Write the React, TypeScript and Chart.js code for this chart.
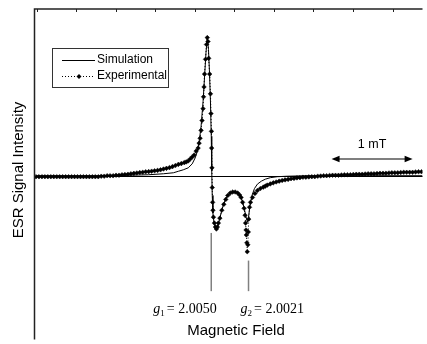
import React, { useEffect, useRef } from "react";
import { Chart, registerables } from "chart.js";

Chart.register(...registerables);

// Field axis in arbitrary field units (1 mT = 82 units), signal in arbitrary units
const expField = [1, 4, 7, 10, 13, 16, 19, 22, 25, 28, 31, 34, 37, 40, 43, 46, 49, 52, 55, 58, 61, 64, 67, 70, 73, 76, 79, 82, 85, 88, 91, 94, 97, 100, 103, 106, 109, 112, 115, 118, 121, 124, 127, 130, 133, 136, 139, 142, 145, 148, 151, 153, 155, 157, 159, 161, 163, 165, 166, 167, 168, 169, 170, 170.5, 171, 171.5, 172.5, 173.5, 174.3, 175, 175.7, 176.7, 177.5, 178, 178.5, 178.7, 179, 179.3, 179.7, 180, 180.5, 181.5, 182.5, 183.5, 184.5, 185.5, 187, 189, 191, 193, 195, 197.5, 200, 202.5, 205, 207, 208.5, 210, 211.5, 212.5, 213, 213.5, 213.8, 214.3, 214.7, 215.3, 215.8, 216.2, 217, 218, 220, 222.5, 225, 228, 231, 233, 235, 238, 241, 244, 247, 250, 253, 256, 259, 262, 265, 268, 271, 274, 277, 280, 283, 286, 289, 292, 295, 298, 301, 304, 307, 310, 313, 316, 319, 322, 325, 328, 331, 334, 337, 340, 343, 346, 349, 352, 355, 358, 361, 364, 367, 370, 373, 376, 379, 382, 385, 388, 391];
const expSignal = [-1, -1, -1, -1, -1, -1, -1, -1, -1, -1, -1, -1, -1, -1, -1, -1, -1, -1, -1, -1, -1, -1, -0.5, -0.5, 0, 0, 0, 0.5, 0.5, 1, 1.2, 1.5, 2, 2.4, 2.8, 3.2, 3.5, 4, 4.2, 4.6, 5, 5.4, 6, 6.8, 7.5, 8.2, 9.2, 10.3, 11.5, 12.3, 13.3, 14, 15, 17, 19, 21, 25, 28, 33, 38, 46, 56, 68, 80, 90, 103, 118, 133, 140, 136, 119, 103, 83, 63, 45, 28, 8, -12, -27, -35, -42, -48, -52, -54, -52, -48, -43, -35, -29, -24, -20, -17.5, -16.5, -16.5, -17.5, -19.5, -22, -27, -33, -40, -48, -55, -60, -68, -77, -70, -57, -44, -32, -27, -22, -18, -15, -13, -11.5, -10.5, -9.5, -8.3, -7.2, -6.3, -5.5, -4.8, -4.2, -3.7, -3, -2.7, -2.2, -2, -1.5, -1.5, -1.2, -1, -1, -0.5, -0.3, 0, 0, 0.3, 0.5, 0.5, 0.5, 0.8, 1, 1, 1, 1.3, 1.5, 1.5, 1.5, 1.8, 2, 2, 2, 2.3, 2.5, 2.5, 2.5, 2.8, 3, 3, 3, 3.3, 3.5, 3.5, 3.5, 3.5, 3.8, 4, 4];

const simField = [1, 65, 95, 115, 130, 140, 145, 150, 155, 159, 162, 164, 166, 168, 170, 171.5, 173, 174.3, 175.5, 176.5, 177.5, 178.3, 178.8, 179.3, 180, 181, 182.3, 183.5, 185, 187, 190, 193, 197, 201, 205, 208, 210.5, 212.5, 214, 215, 216, 217.5, 219.5, 222, 225, 229, 233, 238, 245, 255, 275, 392];
const simSignal = [0, 0, 0.5, 1, 2, 3, 4.5, 6, 8, 12, 18, 24, 34, 50, 75, 100, 125, 140, 128, 105, 75, 40, 5, -20, -38, -47, -52, -54, -51, -43, -31, -23, -18, -16, -17.5, -21, -28, -37, -44, -47, -42, -30, -20, -13, -8.5, -5.5, -3.5, -2, -1, -0.5, 0, 0];

const seriesNames = ["Simulation", "Experimental"];
const gFields = [178.3, 216];
const gSubs = ["1", "2"];
const gValues = ["2.0050", "2.0021"];
const gLineTops = [-58, -86];
const gLineBottom = -117;
const scaleBarStart = 300;
const scaleBarEnd = 382;
const scaleBarLevel = 17;
const scaleBarLabel = "1 mT";
const xTitle = "Magnetic Field";
const yTitle = "ESR Signal Intensity";
const topTickFields = [1.7, 41.7, 81.7, 121.7, 161.7, 201.7, 241.7, 281.7, 321.7, 361.7];

const SANS = '"Liberation Sans", Arial, sans-serif';
const SERIF = '"Liberation Serif", "Times New Roman", serif';

function drawDiamond(ctx: CanvasRenderingContext2D, x: number, y: number, r: number) {
  ctx.beginPath();
  ctx.moveTo(x, y - r);
  ctx.lineTo(x + r, y);
  ctx.lineTo(x, y + r);
  ctx.lineTo(x - r, y);
  ctx.closePath();
  ctx.fill();
}

const decorPlugin = {
  id: "decor",
  beforeDatasetsDraw(chart: any) {
    const { ctx, chartArea, scales } = chart;
    const y0 = scales.y.getPixelForValue(0);
    ctx.save();
    ctx.strokeStyle = "#000";
    ctx.lineWidth = 1;
    ctx.beginPath();
    ctx.moveTo(chartArea.left, Math.round(y0) + 0.5);
    ctx.lineTo(chartArea.right, Math.round(y0) + 0.5);
    ctx.stroke();
    ctx.restore();
  },
  afterDraw(chart: any) {
    const { ctx, chartArea, scales } = chart;
    const xs = scales.x;
    const ys = scales.y;
    ctx.save();
    // frame (left and top)
    ctx.strokeStyle = "#222";
    ctx.lineWidth = 1.5;
    ctx.beginPath();
    ctx.moveTo(chartArea.left - 0.5, chartArea.bottom);
    ctx.lineTo(chartArea.left - 0.5, chartArea.top);
    ctx.lineTo(chartArea.right, chartArea.top);
    ctx.stroke();
    ctx.lineWidth = 1;
    topTickFields.forEach((f) => {
      const px = Math.round(xs.getPixelForValue(f)) + 0.5;
      ctx.beginPath();
      ctx.moveTo(px, chartArea.top);
      ctx.lineTo(px, chartArea.top + 3);
      ctx.stroke();
    });

    // legend
    ctx.strokeStyle = "#333";
    ctx.lineWidth = 1;
    ctx.strokeRect(52.5, 48.5, 116, 39);
    ctx.strokeStyle = "#000";
    ctx.beginPath();
    ctx.moveTo(62, 60.5);
    ctx.lineTo(95, 60.5);
    ctx.stroke();
    ctx.setLineDash([1, 2]);
    ctx.beginPath();
    ctx.moveTo(62, 76.5);
    ctx.lineTo(95, 76.5);
    ctx.stroke();
    ctx.setLineDash([]);
    ctx.fillStyle = "#000";
    drawDiamond(ctx, 79, 76.5, 2.5);
    ctx.font = `12px ${SANS}`;
    ctx.textBaseline = "middle";
    ctx.textAlign = "left";
    ctx.fillText(seriesNames[0], 97, 60);
    ctx.fillText(seriesNames[1], 97, 76);

    // g lines and labels
    ctx.strokeStyle = "#808080";
    ctx.lineWidth = 1.5;
    const offsets = [-58, -8];
    gFields.forEach((f, i) => {
      const px = xs.getPixelForValue(f);
      ctx.beginPath();
      ctx.moveTo(px, ys.getPixelForValue(gLineTops[i]));
      ctx.lineTo(px, ys.getPixelForValue(gLineBottom));
      ctx.stroke();
      let tx = px + offsets[i];
      const by = 313;
      ctx.textBaseline = "alphabetic";
      ctx.font = `italic 14px ${SERIF}`;
      ctx.fillText("g", tx, by);
      tx += ctx.measureText("g").width;
      ctx.font = `9px ${SERIF}`;
      ctx.fillText(gSubs[i], tx, by + 3);
      tx += ctx.measureText(gSubs[i]).width + 2;
      ctx.font = `14px ${SERIF}`;
      ctx.fillText("= " + gValues[i], tx, by);
    });

    // 1 mT scale bar
    const ax1 = xs.getPixelForValue(scaleBarStart);
    const ax2 = xs.getPixelForValue(scaleBarEnd);
    const ay = ys.getPixelForValue(scaleBarLevel);
    ctx.strokeStyle = "#555";
    ctx.lineWidth = 1.5;
    ctx.beginPath();
    ctx.moveTo(ax1 + 4, ay);
    ctx.lineTo(ax2 - 4, ay);
    ctx.stroke();
    ctx.fillStyle = "#000";
    ctx.beginPath();
    ctx.moveTo(ax1, ay);
    ctx.lineTo(ax1 + 8, ay - 3.2);
    ctx.lineTo(ax1 + 8, ay + 3.2);
    ctx.closePath();
    ctx.fill();
    ctx.beginPath();
    ctx.moveTo(ax2, ay);
    ctx.lineTo(ax2 - 8, ay - 3.2);
    ctx.lineTo(ax2 - 8, ay + 3.2);
    ctx.closePath();
    ctx.fill();
    ctx.font = `12.5px ${SANS}`;
    ctx.textAlign = "center";
    ctx.textBaseline = "middle";
    ctx.fillText(scaleBarLabel, (ax1 + ax2) / 2, ay - 14);

    // axis titles
    ctx.font = `15px ${SANS}`;
    ctx.fillText(xTitle, 236, 331);
    ctx.translate(19, 170);
    ctx.rotate(-Math.PI / 2);
    ctx.fillText(yTitle, 0, 0);
    ctx.restore();
  },
};

export default function App() {
  const ref = useRef<HTMLCanvasElement | null>(null);
  useEffect(() => {
    if (!ref.current) return;
    const chart = new Chart(ref.current, {
      type: "scatter",
      data: {
        datasets: [
          {
            label: seriesNames[0],
            data: simField.map((x, i) => ({ x, y: simSignal[i] })),
            showLine: true,
            borderColor: "#000",
            borderWidth: 1,
            pointRadius: 0,
            order: 1,
          },
          {
            label: seriesNames[1],
            data: expField.map((x, i) => ({ x, y: expSignal[i] })),
            showLine: true,
            borderColor: "#000",
            borderWidth: 1,
            borderDash: [1, 2],
            pointStyle: "rectRot",
            pointRadius: 2.3,
            pointBackgroundColor: "#000",
            pointBorderColor: "#000",
            pointBorderWidth: 0.5,
            order: 0,
          },
        ],
      },
      options: {
        animation: false,
        responsive: true,
        maintainAspectRatio: false,
        layout: { padding: { left: 35, top: 9, right: 0, bottom: 0 } },
        scales: {
          x: { type: "linear", min: 0, max: 392, display: false },
          y: { type: "linear", min: -166, max: 169, display: false },
        },
        plugins: { legend: { display: false }, tooltip: { enabled: false } },
      },
      plugins: [decorPlugin],
    });
    return () => chart.destroy();
  }, []);
  return (
    <div style={{ position: "fixed", left: 0, top: 0, width: 427, height: 344, background: "#fff" }}>
      <canvas ref={ref} />
    </div>
  );
}
